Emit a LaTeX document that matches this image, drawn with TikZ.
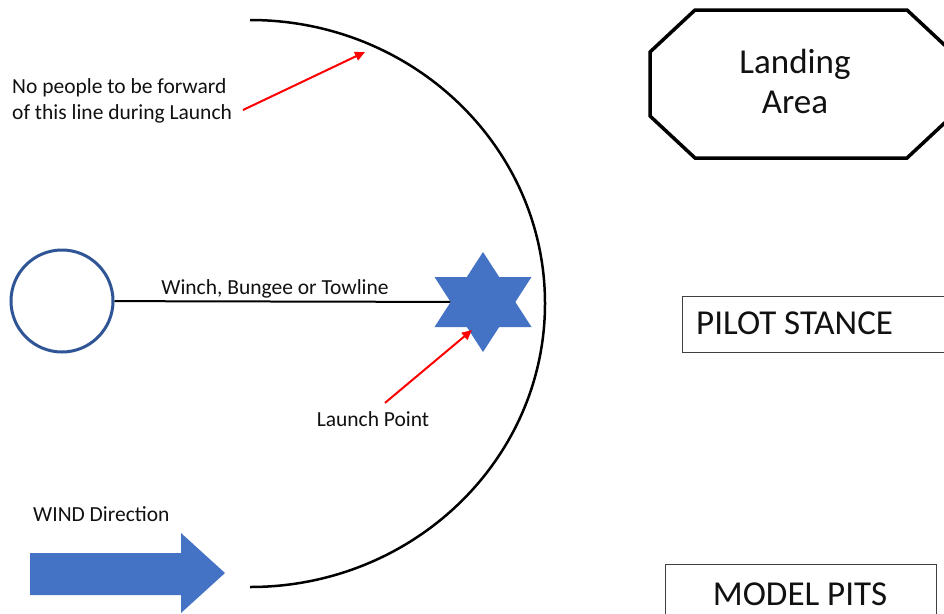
\documentclass[tikz,border=0pt]{standalone}
\usepackage{fontspec}
\setmainfont{Carlito}
\usetikzlibrary{arrows.meta,shapes.geometric}
\definecolor{starblue}{HTML}{4472C4}
\definecolor{ringblue}{HTML}{2F5597}
\definecolor{boxgray}{HTML}{404040}
\definecolor{txt}{HTML}{111111}
\tikzset{
  smalltxt/.style={text=txt, inner sep=0pt, font=\fontsize{21.5pt}{26pt}\selectfont},
  bigtxt/.style={text=txt, inner sep=0pt, font=\fontsize{35pt}{41pt}\selectfont},
  redarrow/.style={draw=red, line width=2pt, -{Triangle[length=10pt,width=9pt]}},
  labelbox/.style={draw=boxgray, line width=1.2pt, rectangle, inner sep=0pt, anchor=north west},
}
\begin{document}
\begin{tikzpicture}[x=1pt,y=-1pt]
\useasboundingbox (0,0) rectangle (944,613);
\clip (0,0) rectangle (944,613);
\fill[white] (0,0) rectangle (944,613);

% launch line arc
\draw[line width=2.5pt, black] (250,20) arc[start angle=-90, end angle=90, x radius=295, y radius=283.5];

% winch ring and launch star
\node[circle, draw=ringblue, line width=3pt, minimum size=102pt, inner sep=0pt] (ring) at (62,301) {};
\begin{scope}[shift={(483,302)}, xscale=1.12]
\node[star, star points=6, star point ratio=1.732, minimum size=100pt, inner sep=0pt, fill=starblue, transform shape] (launchpt) at (0,0) {};
\end{scope}
\draw[line width=2pt, black] (ring) -- (launchpt);
\node[smalltxt, anchor=base] (rope) at (275,294) {Winch, Bungee or Towline};

% warning label
\node[smalltxt, anchor=base west, align=left] (warn) at (12,119) {No people to be forward\\of this line during Launch};
\coordinate (lineTip) at (365,52);
\coordinate (warnStart) at (243,110);
\draw[redarrow] (warnStart) -- (lineTip);

% launch point label
\node[smalltxt, anchor=base] (lplabel) at (373,426) {Launch Point};
\coordinate (starTip) at (472,330);
\draw[redarrow] ([xshift=12pt,yshift=8pt]lplabel.north) -- (starTip);

% wind
\node[smalltxt, anchor=base west] (windlabel) at (33,521) {WIND Direction};
\fill[starblue] (30,553) -- (181,553) -- (181,533) -- (225,573) -- (181,613) -- (181,595) -- (30,595) -- cycle;

% landing area
\draw[line width=3.5pt, black, line join=miter] (650,52) -- (695,10) -- (907,10) -- (952,52) -- (952,116) -- (907,158) -- (695,158) -- (650,116) -- cycle;
\node[bigtxt, anchor=base] (landing) at (795,73) {Landing};
\node[bigtxt, anchor=base] (area) at (795,113) {Area};

% pilot stance
\node[labelbox, minimum width=280pt, minimum height=56pt] (pilotbox) at (682,296) {};
\node[bigtxt, anchor=base west] (pilot) at (696,334) {PILOT STANCE};

% model pits
\node[labelbox, minimum width=271pt, minimum height=60pt] (pitsbox) at (665,564) {};
\node[bigtxt, anchor=base] (pits) at (800,605) {MODEL PITS};
\end{tikzpicture}
\end{document}
